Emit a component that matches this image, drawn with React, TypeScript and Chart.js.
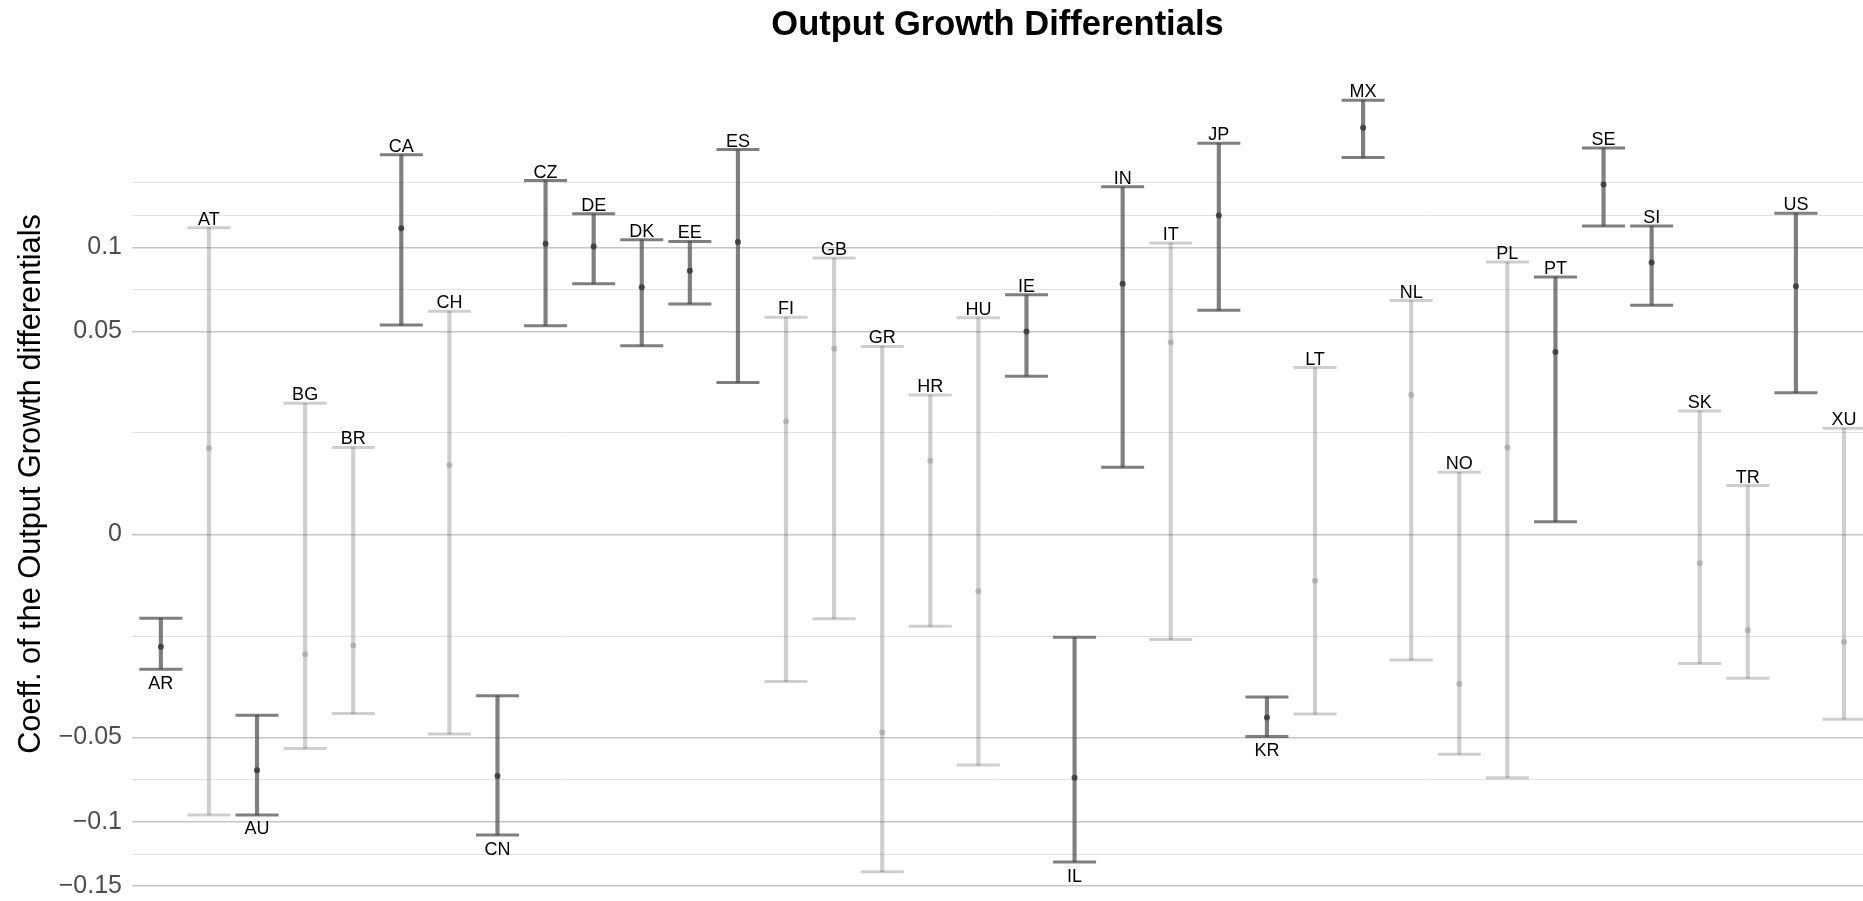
import { useEffect, useRef } from 'react';
import { Chart, LinearScale, registerables } from 'chart.js';

Chart.register(...registerables);

// ---------------- data ----------------
const TITLE = 'Output Growth Differentials';
const Y_TITLE = 'Coeff. of the Output Growth differentials';

const CATEGORIES = ['AR', 'AT', 'AU', 'BG', 'BR', 'CA', 'CH', 'CN', 'CZ', 'DE', 'DK', 'EE', 'ES', 'FI', 'GB', 'GR', 'HR', 'HU', 'IE', 'IL', 'IN', 'IT', 'JP', 'KR', 'LT', 'MX', 'NL', 'NO', 'PL', 'PT', 'SE', 'SI', 'SK', 'TR', 'US', 'XU'];

const ESTIMATE = [-0.0153, 0.0090, -0.0674, -0.0174, -0.0149, 0.1138, 0.0058, -0.0707, 0.1026, 0.1006, 0.0741, 0.0844, 0.1038, 0.0155, 0.0419, -0.0475, 0.0066, -0.0039, 0.0500, -0.0717, 0.0762, 0.0448, 0.1234, -0.0406, -0.0026, 0.2006, 0.0236, -0.0270, 0.0092, 0.0404, 0.1485, 0.0897, -0.0010, -0.0111, 0.0748, -0.0140];

const LOWER = [-0.0220, -0.0954, -0.0954, -0.0555, -0.0389, 0.0532, -0.0483, -0.1096, 0.0529, 0.0762, 0.0432, 0.0645, 0.0280, -0.0262, -0.0086, -0.1380, -0.0102, -0.0645, 0.0304, -0.1301, 0.0055, -0.0134, 0.0610, -0.0495, -0.0391, 0.1723, -0.0191, -0.0585, -0.0717, 0.0002, 0.1155, 0.0638, -0.0202, -0.0251, 0.0244, -0.0414];

const UPPER = [-0.0085, 0.1142, -0.0396, 0.0209, 0.0092, 0.1749, 0.0604, -0.0315, 0.1519, 0.1247, 0.1054, 0.1042, 0.1797, 0.0573, 0.0927, 0.0429, 0.0236, 0.0570, 0.0697, -0.0128, 0.1466, 0.1030, 0.1856, -0.0320, 0.0338, 0.2287, 0.0664, 0.0047, 0.0900, 0.0805, 0.1813, 0.1155, 0.0185, 0.0029, 0.1251, 0.0137];

const Y_MAJOR = [-0.15, -0.1, -0.05, 0, 0.05, 0.1];
const Y_TICK_LABELS = ['\u22120.15', '\u22120.1', '\u22120.05', '0', '0.05', '0.1'];
const Y_MINOR = [-0.1238, -0.0729, -0.0125, 0.0125, 0.0729, 0.1238, 0.15];

const Y_MIN = -0.1629;
const Y_MAX = 0.2847;
const X_MIN = 0.4;
const X_MAX = 36.395;

// ---------------- style ----------------
const FONT = '"Liberation Sans", Arial, Helvetica, sans-serif';
const DARK_BAR = 'rgba(77,77,77,0.72)';
const LIGHT_BAR = 'rgba(77,77,77,0.27)';
const DARK_PT = 'rgba(55,55,55,0.85)';
const LIGHT_PT = 'rgba(150,150,150,0.55)';
const MAJOR_GRID = '#c6c6c6';
const MINOR_GRID = '#e3e3e3';

const signedSqrt = (v: number) => Math.sign(v) * Math.sqrt(Math.abs(v));
const signedSquare = (t: number) => Math.sign(t) * t * t;

class SignedSqrtScale extends LinearScale {
  static id = 'signedSqrt';
  static defaults = {};
  buildTicks() {
    return [...Y_MAJOR, ...Y_MINOR].sort((a, b) => a - b).map((v) => ({ value: v }));
  }
  configure() {
    super.configure();
    (this as any)._tMin = signedSqrt((this as any).min);
    (this as any)._tMax = signedSqrt((this as any).max);
  }
  getPixelForValue(value: number) {
    if (value === null || value === undefined || isNaN(value)) return NaN;
    const t0 = (this as any)._tMin;
    const t1 = (this as any)._tMax;
    return (this as any).getPixelForDecimal((signedSqrt(value) - t0) / (t1 - t0));
  }
  getValueForPixel(pixel: number) {
    const t0 = (this as any)._tMin;
    const t1 = (this as any)._tMax;
    const d = (this as any).getDecimalForPixel(pixel);
    return signedSquare(t0 + d * (t1 - t0));
  }
}
Chart.register(SignedSqrtScale as any);

const isSig = (i: number) => LOWER[i] > 0 || UPPER[i] < 0;

const labelPlugin = {
  id: 'countryLabels',
  afterDatasetsDraw(chart: any) {
    const { ctx, scales } = chart;
    const x = scales.x;
    const y = scales.y;
    ctx.save();
    ctx.font = `18px ${FONT}`;
    ctx.fillStyle = '#000000';
    ctx.textAlign = 'center';
    ctx.textBaseline = 'alphabetic';
    CATEGORIES.forEach((c, i) => {
      const px = x.getPixelForValue(i + 1);
      if (UPPER[i] < 0) {
        ctx.fillText(c, px, y.getPixelForValue(LOWER[i]) + 19.5);
      } else {
        ctx.fillText(c, px, y.getPixelForValue(UPPER[i]) - 3);
      }
    });
    ctx.restore();

    // y-axis title
    ctx.save();
    ctx.translate(32, 484);
    ctx.rotate(-Math.PI / 2);
    ctx.font = `30.7px ${FONT}`;
    ctx.fillStyle = '#000000';
    ctx.textAlign = 'center';
    ctx.textBaseline = 'middle';
    ctx.fillText(Y_TITLE, 0, 0);
    ctx.restore();
  },
};

export default function App() {
  const ref = useRef<HTMLCanvasElement | null>(null);

  useEffect(() => {
    if (!ref.current) return;
    const barColors = CATEGORIES.map((_, i) => (isSig(i) ? DARK_BAR : LIGHT_BAR));
    const capData: { x: number; y: number }[] = [];
    const capColors: string[] = [];
    CATEGORIES.forEach((_, i) => {
      capData.push({ x: i + 1, y: LOWER[i] });
      capData.push({ x: i + 1, y: UPPER[i] });
      capColors.push(barColors[i], barColors[i]);
    });

    const chart = new Chart(ref.current, {
      type: 'bar',
      data: {
        datasets: [
          {
            type: 'scatter',
            label: 'estimate',
            data: CATEGORIES.map((_, i) => ({ x: i + 1, y: ESTIMATE[i] })),
            pointRadius: 3,
            pointBackgroundColor: CATEGORIES.map((_, i) => (isSig(i) ? DARK_PT : LIGHT_PT)),
            pointBorderWidth: 0,
            showLine: false,
            order: 0,
          } as any,
          {
            type: 'scatter',
            label: 'caps',
            data: capData,
            pointStyle: 'line',
            pointRadius: 21.5,
            pointBorderWidth: 3,
            pointBorderColor: capColors,
            showLine: false,
            order: 1,
          } as any,
          {
            type: 'bar',
            label: 'interval',
            data: CATEGORIES.map((_, i) => ({ x: i + 1, y: [LOWER[i], UPPER[i]] })),
            backgroundColor: barColors,
            borderWidth: 0,
            barThickness: 3.5,
            order: 2,
          } as any,
        ],
      },
      options: {
        animation: false,
        responsive: false,
        devicePixelRatio: 1,
        events: [],
        layout: { padding: 0, autoPadding: false },
        plugins: {
          legend: { display: false },
          tooltip: { enabled: false },
          title: {
            display: true,
            text: TITLE,
            fullSize: false,
            color: '#000000',
            font: { family: FONT, size: 34.5, weight: 'bold', lineHeight: 1.18 },
            padding: { top: 5, bottom: 4.3 },
          },
        },
        scales: {
          x: {
            type: 'linear',
            min: X_MIN,
            max: X_MAX,
            offset: false,
            display: false,
            grid: { offset: false },
          },
          y: {
            type: 'signedSqrt' as any,
            min: Y_MIN,
            max: Y_MAX,
            border: { display: false },
            grid: {
              drawTicks: false,
              color: (c: any) => (c.tick && Y_MAJOR.includes(c.tick.value) ? MAJOR_GRID : MINOR_GRID),
              lineWidth: (c: any) => (c.tick && Y_MAJOR.includes(c.tick.value) ? 1.5 : 1),
            },
            ticks: {
              autoSkip: false,
              padding: 10,
              color: '#4d4d4d',
              font: { family: FONT, size: 25 },
              callback: (value: any) => {
                const idx = Y_MAJOR.indexOf(Number(value));
                return idx >= 0 ? Y_TICK_LABELS[idx] : '';
              },
            },
            title: { display: false },
            afterFit: (s: any) => {
              s.width = 132;
              s.paddingTop = 0;
              s.paddingBottom = 0;
            },
          } as any,
        },
      },
      plugins: [labelPlugin],
    } as any);

    return () => chart.destroy();
  }, []);

  return (
    <div style={{ position: 'fixed', left: 0, top: 0, width: 1863, height: 901, overflow: 'hidden', background: '#ffffff' }}>
      <canvas ref={ref} width={1863} height={901} style={{ display: 'block' }} />
    </div>
  );
}
